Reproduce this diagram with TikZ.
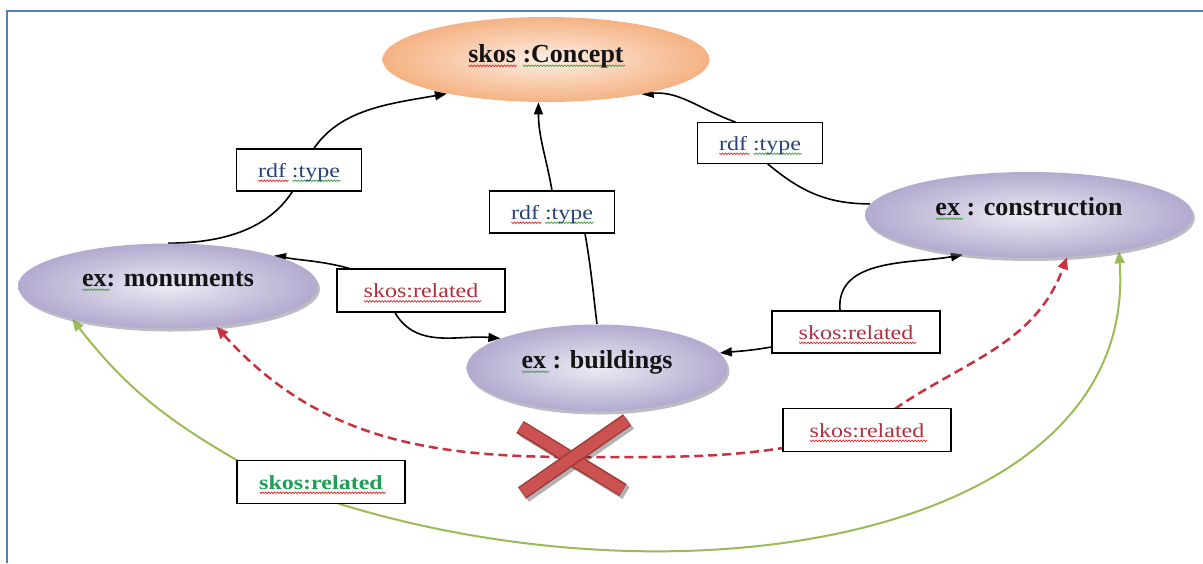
\documentclass[tikz,border=0pt]{standalone}
\usepackage{fontspec}
\setmainfont{Liberation Serif}
\newfontfamily\lblfont[FakeStretch=1.2]{Liberation Serif}
\usetikzlibrary{shapes.geometric,arrows.meta,shadows,calc}

\definecolor{frameblue}{HTML}{4F81BD}
\definecolor{ellin}{HTML}{EDEAF4}
\definecolor{ellout}{HTML}{B3AACF}
\definecolor{shadowgray}{HTML}{6F6B7C}
\definecolor{orin}{HTML}{FDEEE4}
\definecolor{orout}{HTML}{F5B283}
\definecolor{rdfblue}{HTML}{2A4373}
\definecolor{relred}{HTML}{B0313D}
\definecolor{relgreen}{HTML}{1E9E57}
\definecolor{squigred}{HTML}{E0262B}
\definecolor{squiggreen}{HTML}{3E9E3E}
\definecolor{dashred}{HTML}{C8323E}
\definecolor{greenline}{HTML}{9BBB59}
\definecolor{xred}{HTML}{CB5250}
\definecolor{xdark}{HTML}{9E3B39}
\definecolor{textdark}{HTML}{141414}

% spell-check style wavy underline: \squig{colour}{text}
\newsavebox\sqbox
\newdimen\sqpos
\newcommand\squig[2]{%
  \sbox\sqbox{#2}%
  \leavevmode\rlap{\begin{pgfpicture}%
    \pgfsetbaseline{0pt}%
    \pgfsetcolor{#1}%
    \pgfsetlinewidth{0.7pt}%
    \pgfpathmoveto{\pgfpoint{0pt}{-3pt}}%
    \sqpos=0pt
    \loop\ifdim\sqpos<\wd\sqbox
      \advance\sqpos by 1.5pt
      \pgfpathlineto{\pgfpoint{\sqpos}{-4.6pt}}%
      \advance\sqpos by 1.5pt
      \pgfpathlineto{\pgfpoint{\sqpos}{-3pt}}%
    \repeat
    \pgfusepath{stroke}%
  \end{pgfpicture}}\usebox\sqbox}

\pgfdeclarelayer{bg}
\pgfdeclarelayer{links}
\pgfsetlayers{bg,links,main}

\tikzset{
  ellbase/.style={ellipse, inner sep=0pt, text=textdark,
    font=\fontsize{26}{30}\selectfont\bfseries, text height=12pt, text depth=12pt},
  purpleell/.style={ellbase, shading=radial, inner color=ellin, outer color=ellout,
    drop shadow={shadow xshift=2pt, shadow yshift=-3pt, opacity=.45, fill=shadowgray}},
  orangeell/.style={ellbase, shading=radial, inner color=orin, outer color=orout,
    text height=14pt, text depth=9pt},
  lbl/.style={draw=black, line width=1.2pt, fill=white, inner sep=0pt,
    font=\lblfont\fontsize{20}{24}\selectfont, text height=17pt, text depth=3pt,
    minimum height=42pt},
  conn/.style={line width=1.6pt, -{Triangle[length=12pt,width=9pt]}},
  dashlink/.style={dashred, line width=2.5pt, dash pattern=on 9pt off 5pt,
    {Triangle[length=12pt,width=10pt]}-{Triangle[length=12pt,width=10pt]}},
  greenlink/.style={greenline, line width=2pt,
    {Triangle[length=12pt,width=10pt]}-{Triangle[length=12pt,width=10pt]}},
  crossbar/.style={line width=14pt, xdark},
  crossfill/.style={line width=11pt, xred},
  crossshade/.style={line width=14pt, black, opacity=.3}
}

\begin{document}
\begin{tikzpicture}[x=1pt,y=-1pt]
\useasboundingbox (0,0) rectangle (1203,563);
\begin{pgfonlayer}{bg}
  \fill[white] (0,0) rectangle (1203,563);
  \draw[frameblue, line width=2.5pt] (7,563) -- (7,11) -- (1203,11);
\end{pgfonlayer}

% concept nodes
\node[orangeell, minimum width=327pt, minimum height=85pt] (con) at (546,59.5)
  {\squig{squigred}{skos} \squig{squiggreen}{:Concept}};
\node[purpleell, minimum width=300pt, minimum height=85pt] (mon) at (168,286)
  {\squig{squiggreen}{ex}: monuments};
\node[purpleell, minimum width=261pt, minimum height=87pt] (bld) at (597,368)
  {\squig{squiggreen}{ex} : buildings};
\node[purpleell, minimum width=328pt, minimum height=86pt] (cons) at (1029,215)
  {\squig{squiggreen}{ex} : construction};

% property labels
\node[lbl, minimum width=125pt, text=rdfblue] (lt) at (299,170)
  {\squig{squigred}{rdf} \squig{squiggreen}{:type}};
\node[lbl, minimum width=125pt, text=rdfblue] (mt) at (552,212)
  {\squig{squigred}{rdf} \squig{squiggreen}{:type}};
\node[lbl, minimum width=125pt, minimum height=41pt, text=rdfblue] (rt) at (760,143)
  {\squig{squigred}{rdf} \squig{squiggreen}{:type}};
\node[lbl, minimum width=168pt, minimum height=43pt, text=relred] (sl) at (421,290.5)
  {\squig{squigred}{skos:related}};
\node[lbl, minimum width=168pt, text=relred] (sr) at (856,332)
  {\squig{squigred}{skos:related}};
\node[lbl, minimum width=168pt, minimum height=43pt, text=relred] (sb) at (867,430)
  {\squig{squigred}{skos:related}};
\node[lbl, minimum width=168pt, minimum height=43pt, text=relgreen,
  font=\lblfont\fontsize{20}{24}\selectfont\bfseries] (sg) at (321,482)
  {\squig{squigred}{skos:related}};

\coordinate (cross) at (572,457);

\begin{pgfonlayer}{links}
  % rdf:type links
  \draw[conn] (mon.north) to[out=0,in=-110] ($(lt.center)+(4,0)$) to[out=70,in=190] (con.199);
  \draw[conn] (bld.north) to[out=97,in=-80] ($(mt.south)+(33,0)$) -- (mt.north) to[out=100,in=-90] (con.260);
  \draw[conn] (cons.176) to[out=180,in=-40] ($(rt.south)+(8,0)$) -- ($(rt.north)+(-25,0)$) to[out=160,in=5] (con.-20);
  % skos:related links
  \draw[conn] ($(sl.north west)+(13,0)$) to[out=165,in=-10] (mon.16);
  \draw[conn] ($(sl.south)+(-26,0)$) to[out=-60,in=175] (bld.163);
  \draw[conn] ($(sr.north)+(-16,0)$) to[out=95,in=190] (cons.211);
  \draw[conn] ($(sr.west)+(0,15)$) to[out=190,in=5] (bld.7);
  \draw[dashlink] (mon.-40) to[out=-48,in=180] (cross) to[out=0,in=195] (sb.center) to[out=40,in=-110] (cons.-48);
  \draw[greenlink] (mon.199) to[out=-52,in=150] (sg.north west) -- ($(sg.south)+(19,0)$)
    .. controls +(360,110) and +(20,280) .. (cons.-22);
\end{pgfonlayer}

% the cross over the transitive link
\draw[crossshade] ($(cross)+(-49,-27)$) -- ($(cross)+(54,36)$);
\draw[crossshade] ($(cross)+(58,-34)$) -- ($(cross)+(-47,39)$);
\draw[crossbar] ($(cross)+(-52,-30)$) -- ($(cross)+(51,33)$);
\draw[crossfill] ($(cross)+(-51.5,-30)$) -- ($(cross)+(50.5,33)$);
\draw[crossbar] ($(cross)+(55,-37)$) -- ($(cross)+(-50,36)$);
\draw[crossfill] ($(cross)+(54.5,-36.5)$) -- ($(cross)+(-49.5,35.5)$);
\end{tikzpicture}
\end{document}
